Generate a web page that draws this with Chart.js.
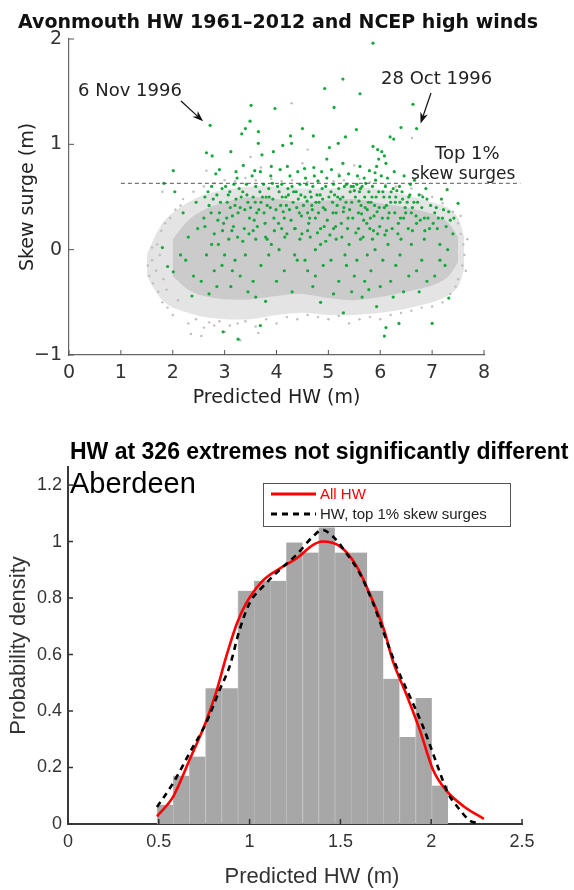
<!DOCTYPE html>
<html>
<head>
<meta charset="utf-8">
<script src="https://cdn.jsdelivr.net/npm/chart.js@4.4.0/dist/chart.umd.min.js"></script>
<style>
  html, body { margin: 0; padding: 0; background: #fff; }
  #wrap { position: relative; width: 574px; height: 890px; overflow: hidden; }
  #top { position: absolute; left: 0; top: 0; }
  #bottom { position: absolute; left: 0; top: 430px; }
</style>
</head>
<body>
<div id="wrap">
  <canvas id="top" width="574" height="430" style="width:574px;height:430px"></canvas>
  <canvas id="bottom" width="574" height="460" style="width:574px;height:460px"></canvas>
</div>
<script>
// ---------- top panel: Avonmouth skew surge vs predicted HW ----------
const hwTicks = [0, 1, 2, 3, 4, 5, 6, 7, 8];
const surgeTicks = [-1, 0, 1, 2];
const top1Threshold = 0.63;
const thresholdSpan = [1, 8.7];

// envelope of the grey cloud (all high waters)
const cloudOuterX  = [1.5, 1.65, 1.8, 2.0, 2.3, 2.6, 3.0, 3.5, 4.0, 4.5, 5.0, 5.5, 6.0, 6.5, 7.0, 7.3, 7.5, 7.62];
const cloudOuterHi = [-0.05, 0.12, 0.25, 0.35, 0.45, 0.52, 0.57, 0.6, 0.6, 0.58, 0.58, 0.6, 0.57, 0.52, 0.45, 0.4, 0.3, 0.12];
const cloudOuterLo = [-0.25, -0.38, -0.48, -0.55, -0.6, -0.64, -0.66, -0.66, -0.62, -0.6, -0.62, -0.62, -0.6, -0.56, -0.5, -0.44, -0.35, -0.18];
const cloudCoreX  = [2.0, 2.3, 2.6, 3.0, 3.5, 4.0, 4.5, 5.0, 5.5, 6.0, 6.5, 7.0, 7.3, 7.5];
const cloudCoreHi = [0.1, 0.28, 0.38, 0.45, 0.5, 0.48, 0.45, 0.47, 0.48, 0.44, 0.4, 0.34, 0.26, 0.12];
const cloudCoreLo = [-0.25, -0.38, -0.44, -0.47, -0.47, -0.44, -0.42, -0.46, -0.48, -0.45, -0.4, -0.34, -0.26, -0.12];

// scattered grey high waters around the cloud edge
const greyPoints = [
  [1.55,-0.25],[1.6,-0.1],[1.62,-0.32],[1.7,0.05],[1.72,-0.4],[1.78,0.18],[1.8,-0.5],[1.85,0.25],[1.88,-0.38],[1.95,0.3],
  [1.6,0.02],[1.68,-0.2],[1.75,-0.05],[1.52,-0.15],[1.82,-0.28],[1.9,-0.55],[2.0,-0.62],[2.05,0.38],[2.1,-0.48],[2.15,0.42],
  [2.3,-0.7],[2.35,-0.8],[2.45,-0.66],[2.6,-0.74],[2.7,-0.69],[2.8,-0.72],[2.9,-0.68],[3.0,-0.78],[3.1,-0.72],[3.25,-0.7],
  [3.4,-0.68],[3.6,-0.73],[3.65,-0.79],[3.8,-0.66],[4.0,-0.7],[4.2,-0.64],[4.4,-0.66],[4.6,-0.62],[4.8,-0.64],[5.0,-0.66],
  [5.2,-0.63],[5.4,-0.7],[5.6,-0.66],[5.8,-0.64],[6.0,-0.66],[6.2,-0.62],[6.4,-0.6],[6.6,-0.58],[6.8,-0.55],[7.0,-0.54],
  [7.2,-0.5],[7.35,-0.42],[3.3,-0.86],[2.55,-0.82],
  [2.2,0.48],[2.4,0.55],[2.6,0.6],[2.8,0.63],[3.0,0.66],[3.2,0.65],[3.4,0.68],[3.6,0.66],[3.9,0.67],[4.1,0.65],
  [4.3,0.66],[4.6,0.64],[4.8,0.66],[5.1,0.65],[5.3,0.66],[5.6,0.67],[5.8,0.64],[6.1,0.62],[6.3,0.6],[6.6,0.58],
  [6.8,0.52],[7.0,0.5],[7.2,0.44],[7.4,0.36],[1.8,0.55],[2.65,0.75],[3.7,0.78],[4.5,0.82],[5.5,0.8],[6.61,1.06],
  [4.29,1.39],[4.6,0.95],[3.5,0.88],[5.2,0.72],
  [7.5,0.25],[7.55,0.15],[7.6,0.05],[7.62,-0.05],[7.58,-0.15],[7.5,-0.28],[7.45,-0.35],[7.65,-0.2],[7.55,0.32],[7.68,0.1]
];

// green: high waters with NCEP high winds
const windPoints = [
  [1.83,0.63],[2.04,0.55],[2.01,0.75],[1.8,0.02],[1.9,-0.16],[2.01,-0.21],[2.2,0.35],[2.3,0.12],[2.37,-0.44],[2.45,0.45],
  [2.25,-0.1],[2.4,-0.25],[2.48,0.2],[2.15,-0.05],
  [2.72,1.18],[2.65,0.92],[2.76,0.89],[2.9,0.76],[2.6,0.3],[2.62,0.5],[2.7,0.42],[2.75,0.6],[2.8,0.15],[2.85,0.52],
  [2.9,0.35],[2.95,0.58],[2.97,-0.78],[2.55,-0.3],[2.65,-0.05],[2.8,-0.2],[2.88,0.05],[2.98,0.25],[2.7,-0.42],[2.95,-0.15],
  [3.12,0.93],[3.22,0.74],[3.33,1.1],[3.4,1.15],[3.49,1.22],[3.05,0.45],[3.1,0.55],[3.15,0.32],[3.18,0.62],[3.22,0.48],
  [3.28,0.58],[3.3,0.4],[3.35,0.55],[3.38,0.2],[3.42,0.62],[3.45,0.45],[3.48,0.3],[3.08,0.1],[3.2,-0.1],[3.26,-0.85],
  [3.3,-0.25],[3.4,-0.05],[3.45,-0.4],[3.12,-0.35],[3.35,0.08],
  [3.51,1.37],[3.65,1.12],[3.65,1.01],[3.72,0.9],[3.58,0.75],[3.9,0.79],[3.94,0.93],[3.97,1.34],[3.55,0.5],[3.6,0.6],
  [3.62,0.35],[3.68,0.55],[3.7,0.45],[3.75,0.62],[3.78,0.25],[3.8,0.5],[3.85,0.58],[3.88,0.4],[3.92,0.63],[3.95,0.3],
  [3.6,0.1],[3.7,-0.15],[3.69,-0.72],[3.79,-0.49],[3.85,-0.05],[3.55,-0.3],[3.9,0.05],
  [4.12,0.99],[4.27,1.08],[4.29,1.01],[4.21,0.79],[4.05,0.55],[4.08,0.42],[4.1,0.62],[4.15,0.3],[4.18,0.5],[4.22,0.58],
  [4.25,0.38],[4.3,0.6],[4.32,0.45],[4.35,0.2],[4.38,0.55],[4.42,0.48],[4.45,0.62],[4.48,0.32],[4.05,0.0],[4.15,-0.2],
  [4.3,-0.4],[4.4,-0.1],[4.45,0.1],[4.2,0.15],
  [4.5,1.15],[4.54,0.77],[4.72,0.78],[4.71,1.08],[4.97,0.86],[5.02,0.97],[4.55,0.5],[4.58,0.62],[4.6,0.35],[4.65,0.55],
  [4.68,0.42],[4.7,0.6],[4.75,0.3],[4.78,0.52],[4.8,0.65],[4.82,0.45],[4.85,0.2],[4.88,0.58],[4.9,0.4],[4.95,0.6],
  [4.98,0.28],[4.6,-0.2],[4.7,-0.35],[4.75,0.0],[4.85,-0.5],[4.9,-0.15],[4.65,0.12],[4.95,0.08],
  [4.93,1.53],[5.28,1.62],[5.11,1.35],[5.19,1.01],[5.33,1.07],[5.28,0.82],[5.05,0.55],[5.08,0.45],[5.1,0.62],[5.15,0.35],
  [5.18,0.5],[5.2,0.58],[5.25,0.25],[5.28,0.5],[5.3,0.4],[5.35,0.62],[5.38,0.3],[5.42,0.55],[5.45,0.45],[5.48,0.6],
  [5.05,-0.1],[5.15,0.1],[5.2,-0.3],[5.29,-0.6],[5.35,-0.15],[5.4,0.05],[5.45,-0.4],
  [5.61,1.48],[5.54,1.14],[5.61,0.79],[5.86,1.96],[5.86,0.98],[5.95,0.95],[5.93,0.79],[5.9,0.73],[5.52,0.5],[5.55,0.62],
  [5.58,0.35],[5.6,0.55],[5.63,0.42],[5.65,0.6],[5.68,0.28],[5.7,0.5],[5.72,0.63],[5.75,0.38],[5.78,0.55],[5.8,0.2],
  [5.82,0.45],[5.85,0.6],[5.88,0.32],[5.92,0.5],[5.95,0.15],[5.98,0.4],[5.55,-0.1],[5.62,0.1],[5.7,-0.3],[5.75,-0.05],
  [5.82,-0.2],[5.93,-0.54],[5.9,0.0],[5.65,-0.45],
  [6.03,0.93],[6.08,0.89],[6.11,0.82],[5.97,0.86],[6.19,1.07],[6.26,1.05],[6.4,1.16],[6.05,0.55],[6.08,0.4],[6.1,0.6],
  [6.15,0.3],[6.18,0.5],[6.2,0.45],[6.25,0.58],[6.28,0.35],[6.3,0.5],[6.35,0.25],[6.38,0.45],[6.42,0.55],[6.45,0.3],
  [6.48,0.4],[6.08,-0.82],[6.11,-0.74],[6.36,-0.7],[6.05,-0.1],[6.15,0.05],[6.2,-0.3],[6.3,-0.15],[6.4,0.1],[6.25,-0.45],
  [6.63,1.38],[6.7,1.15],[6.55,0.5],[6.6,0.35],[6.65,0.45],[6.7,0.25],[6.75,0.52],[6.8,0.4],[6.85,0.3],[6.9,0.48],
  [6.95,0.2],[6.6,0.05],[6.7,-0.2],[6.8,-0.1],[6.75,-0.4],[6.9,-0.3],[6.58,0.62],[6.88,0.58],
  [7.29,0.57],[7.18,0.48],[7.32,0.36],[7.5,0.44],[7.0,-0.7],[7.32,-0.46],[7.05,0.35],[7.1,0.2],[7.15,0.05],[7.2,0.3],
  [7.25,-0.15],[7.4,0.15],[7.05,-0.25],[7.3,0.0],
  [2.62,0.22],[2.68,0.55],[2.74,0.35],[2.78,0.48],[2.83,0.72],[2.87,0.28],[2.92,0.45],[2.96,0.18],[3.02,0.6],[3.04,0.3],
  [3.07,0.52],[3.11,0.4],[3.14,0.18],[3.17,0.22],[3.2,0.42],[3.24,0.68],[3.26,0.35],[3.32,0.5],[3.36,0.8],[3.39,0.38],
  [3.43,0.52],[3.47,0.15],[3.5,0.4],[3.53,0.7],[3.57,0.28],[3.59,0.45],[3.63,0.22],[3.66,0.38],[3.69,0.74],[3.73,0.5],
  [3.76,0.35],[3.79,0.12],[3.82,0.42],[3.86,0.5],[3.89,0.7],[3.93,0.48],[3.96,0.18],[3.99,0.38],[4.02,0.6],[4.04,0.25],
  [4.07,0.76],[4.11,0.5],[4.13,0.36],[4.16,0.12],[4.19,0.42],[4.23,0.52],[4.26,0.7],[4.28,0.28],[4.33,0.55],[4.36,0.2],
  [4.39,0.4],[4.41,0.74],[4.44,0.35],[4.47,0.52],[4.49,0.15],[4.52,0.42],[4.56,0.68],[4.59,0.46],[4.62,0.25],[4.64,0.3],
  [4.67,0.5],[4.69,0.38],[4.73,0.7],[4.76,0.45],[4.79,0.16],[4.81,0.35],[4.84,0.52],[4.87,0.74],[4.89,0.48],[4.92,0.22],
  [4.94,0.38],[4.97,0.68],[5.01,0.5],[5.03,0.14],[5.06,0.76],[5.09,0.35],[5.12,0.52],[5.14,0.22],[5.17,0.42],[5.21,0.7],
  [5.23,0.48],[5.26,0.12],[5.29,0.36],[5.31,0.6],[5.34,0.45],[5.37,0.2],[5.39,0.72],[5.41,0.38],[5.44,0.6],[5.47,0.3],
  [5.5,0.56],[5.53,0.16],[5.56,0.7],[5.59,0.46],[5.62,0.58],[5.64,0.34],[5.67,0.12],[5.69,0.68],[5.71,0.4],[5.74,0.25],
  [5.77,0.45],[5.79,0.75],[5.81,0.3],[5.84,0.5],[5.87,0.18],[5.89,0.42],[5.91,0.66],[5.94,0.36],[5.97,0.55],[5.99,0.22],
  [6.02,0.7],[6.04,0.3],[6.07,0.5],[6.09,0.14],[6.12,0.42],[6.14,0.68],[6.17,0.35],[6.21,0.55],[6.23,0.2],[6.27,0.74],
  [6.29,0.45],[6.32,0.56],[6.34,0.15],[6.37,0.6],[6.39,0.3],[6.43,0.48],[6.46,0.7],[6.49,0.35],[6.52,0.45],[6.54,0.2],
  [6.57,0.52],[6.62,0.4],[6.66,0.66],[6.69,0.32],[6.72,0.45],[6.77,0.28],[6.82,0.5],[6.86,0.18],[6.92,0.3],[6.97,0.42],
  [7.02,0.25],[7.08,0.4],[7.12,0.3],[7.22,0.38],[7.27,0.22],[7.35,0.28],[7.42,0.3],
  [2.75,0.05],[3.0,-0.05],[3.25,0.12],[3.55,0.18],[3.82,0.1],[4.1,0.2],[4.35,-0.05],[4.6,0.18],[4.85,0.05],[5.1,0.2],
  [5.32,-0.05],[5.58,0.2],[5.85,0.1],[6.12,0.18],[6.38,-0.05],[6.62,0.18],[6.85,0.1],[7.15,-0.1],[3.15,-0.2],[4.0,-0.3],
  [4.55,-0.1],[5.5,-0.25],[6.0,-0.35],[6.55,-0.25],[2.85,-0.35],[3.6,-0.45],[4.75,-0.25],[5.1,-0.42],[5.78,-0.38],[6.45,-0.4]
];

const stormDates = ['6 Nov 1996', '28 Oct 1996'];
const stormPoints = [[2.72, 1.18], [6.70, 1.15]];

// ---------- bottom panel: Aberdeen HW densities ----------
const hwTicksB = [0, 0.5, 1, 1.5, 2, 2.5];
const densityTicks = [0, 0.2, 0.4, 0.6, 0.8, 1, 1.2];
const binCentres = [0.535, 0.624, 0.713, 0.802, 0.891, 0.980, 1.069, 1.158, 1.247,
                    1.336, 1.425, 1.514, 1.603, 1.692, 1.781, 1.870, 1.959, 2.048];
const binDensity = [0.068, 0.171, 0.239, 0.481, 0.481, 0.826, 0.861, 0.861, 0.997,
                    0.961, 1.05, 0.961, 0.961, 0.826, 0.514, 0.308, 0.446, 0.136];
const allHwX = [0.49, 0.58, 0.67, 0.76, 0.82, 0.87, 0.93, 0.98, 1.07, 1.17, 1.26, 1.35, 1.40,
                1.50, 1.59, 1.66, 1.74, 1.79, 1.86, 1.94, 2.01, 2.08, 2.18, 2.29];
const allHwY = [0.027, 0.098, 0.228, 0.363, 0.475, 0.59, 0.71, 0.78, 0.86, 0.906, 0.941, 0.988, 1.0,
                0.982, 0.912, 0.817, 0.688, 0.575, 0.464, 0.328, 0.192, 0.121, 0.062, 0.018];
const topHwX = [0.49, 0.58, 0.67, 0.76, 0.835, 0.89, 0.945, 1.0, 1.074, 1.166, 1.258, 1.349, 1.40,
                1.459, 1.533, 1.606, 1.68, 1.753, 1.808, 1.882, 1.955, 2.029, 2.092, 2.157, 2.212, 2.267];
const topHwY = [0.06, 0.146, 0.252, 0.357, 0.475, 0.558, 0.688, 0.782, 0.841, 0.9, 0.953, 1.018, 1.041,
                1.018, 0.959, 0.888, 0.782, 0.652, 0.558, 0.452, 0.345, 0.216, 0.11, 0.051, 0.012, 0.003];

const pairs = (xs, ys) => xs.map((x, i) => ({ x: x, y: ys[i] }));
const pts = arr => arr.map(p => ({ x: p[0], y: p[1] }));
const plainTick = v => String(v).replace('-', '\u2212');

// MATLAB style ticks pointing into the plot
const inwardTicks = {
  id: 'inwardTicks',
  afterDraw(chart, args, opts) {
    const { ctx, chartArea: a, scales: { x, y } } = chart;
    ctx.save();
    ctx.strokeStyle = opts.color;
    ctx.lineWidth = opts.width;
    ctx.beginPath();
    x.ticks.forEach(t => {
      const px = x.getPixelForValue(t.value);
      ctx.moveTo(px, a.bottom);
      ctx.lineTo(px, a.bottom - opts.len);
    });
    y.ticks.forEach(t => {
      const py = y.getPixelForValue(t.value);
      ctx.moveTo(a.left, py);
      ctx.lineTo(a.left + opts.len, py);
    });
    ctx.stroke();
    ctx.restore();
  }
};

function arrow(ctx, x0, y0, x1, y1) {
  const ang = Math.atan2(y1 - y0, x1 - x0);
  const hl = 11, hw = 4;
  ctx.beginPath();
  ctx.moveTo(x0, y0);
  ctx.lineTo(x1 - hl * 0.7 * Math.cos(ang), y1 - hl * 0.7 * Math.sin(ang));
  ctx.stroke();
  ctx.beginPath();
  ctx.moveTo(x1, y1);
  ctx.lineTo(x1 - hl * Math.cos(ang) + hw * Math.sin(ang), y1 - hl * Math.sin(ang) - hw * Math.cos(ang));
  ctx.lineTo(x1 - hl * 0.7 * Math.cos(ang), y1 - hl * 0.7 * Math.sin(ang));
  ctx.lineTo(x1 - hl * Math.cos(ang) - hw * Math.sin(ang), y1 - hl * Math.sin(ang) + hw * Math.cos(ang));
  ctx.closePath();
  ctx.fill();
}

const topNotes = {
  id: 'topNotes',
  afterDraw(chart) {
    const { ctx, scales: { x, y } } = chart;
    ctx.save();
    ctx.fillStyle = '#111';
    ctx.textBaseline = 'middle';
    ctx.font = 'bold 19px "DejaVu Sans"';
    ctx.fillText('Avonmouth HW 1961\u20132012 and NCEP high winds', 18, 23);
    ctx.font = '18px "DejaVu Sans"';
    ctx.fillStyle = '#222';
    ctx.fillText(stormDates[0], 78, 91);
    ctx.fillText(stormDates[1], 381, 79);
    ctx.fillText('Top 1%', 435, 154);
    ctx.font = '17px "DejaVu Sans"';
    ctx.fillText('skew surges', 411, 175);
    ctx.strokeStyle = '#111';
    ctx.fillStyle = '#111';
    ctx.lineWidth = 1.2;
    const p0 = stormPoints[0], p1 = stormPoints[1];
    arrow(ctx, 181, 101, x.getPixelForValue(p0[0]) - 7, y.getPixelForValue(p0[1]) - 4);
    arrow(ctx, 431, 93, x.getPixelForValue(p1[0]) + 4, y.getPixelForValue(p1[1]) - 5);
    ctx.restore();
  }
};

const topChart = new Chart(document.getElementById('top'), {
  type: 'scatter',
  data: {
    datasets: [
      { type: 'line', label: 'outer hi', data: pairs(cloudOuterX, cloudOuterHi), fill: '+1',
        backgroundColor: '#e4e4e4', borderWidth: 0, pointRadius: 0, tension: 0.3, order: 6 },
      { type: 'line', label: 'outer lo', data: pairs(cloudOuterX, cloudOuterLo), fill: false,
        borderWidth: 0, pointRadius: 0, tension: 0.3, order: 5 },
      { type: 'line', label: 'core hi', data: pairs(cloudCoreX, cloudCoreHi), fill: '+1',
        backgroundColor: '#cbcbcb', borderWidth: 0, pointRadius: 0, tension: 0.3, order: 4 },
      { type: 'line', label: 'core lo', data: pairs(cloudCoreX, cloudCoreLo), fill: false,
        borderWidth: 0, pointRadius: 0, tension: 0.3, order: 3 },
      { label: 'All HW', data: pts(greyPoints), backgroundColor: '#bdbdbd', borderWidth: 0,
        pointRadius: 1.2, order: 2 },
      { label: 'High winds', data: pts(windPoints), backgroundColor: '#16a83c', borderWidth: 0,
        pointRadius: 1.6, order: 1 },
      { type: 'line', label: 'Top 1%', data: thresholdSpan.map(v => ({ x: v, y: top1Threshold })),
        borderColor: '#555', borderWidth: 1, borderDash: [4, 3], pointRadius: 0, clip: false, order: 0 }
    ]
  },
  options: {
    responsive: false,
    animation: false,
    layout: { padding: { left: 0, top: 39, right: 90, bottom: 0 } },
    plugins: {
      legend: { display: false },
      tooltip: { enabled: false },
      inwardTicks: { len: 5, color: '#555', width: 1 }
    },
    scales: {
      x: {
        type: 'linear', min: 0, max: 8,
        afterBuildTicks: s => { s.ticks = hwTicks.map(v => ({ value: v })); },
        afterFit: s => { s.height = 75; },
        grid: { display: false, drawTicks: false },
        border: { display: true, color: '#666', width: 1.2 },
        ticks: { padding: 7, color: '#333', font: { family: 'DejaVu Sans', size: 19 }, callback: plainTick },
        title: { display: true, text: 'Predicted HW (m)', color: '#222',
                 font: { family: 'DejaVu Sans', size: 19 }, padding: { top: 0, bottom: 21 } }
      },
      y: {
        type: 'linear', min: -1, max: 2,
        afterBuildTicks: s => { s.ticks = surgeTicks.map(v => ({ value: v })); },
        afterFit: s => { s.width = 69; },
        grid: { display: false, drawTicks: false },
        border: { display: true, color: '#666', width: 1.2 },
        ticks: { padding: 7, color: '#333', font: { family: 'DejaVu Sans', size: 19 }, callback: plainTick },
        title: { display: true, text: 'Skew surge (m)', color: '#222',
                 font: { family: 'DejaVu Sans', size: 19 }, padding: { top: 17, bottom: 0 } }
      }
    }
  },
  plugins: [inwardTicks, topNotes]
});

const bottomNotes = {
  id: 'bottomNotes',
  afterDraw(chart) {
    const { ctx } = chart;
    ctx.save();
    ctx.textBaseline = 'middle';
    ctx.fillStyle = '#000';
    ctx.font = 'bold 23px "Liberation Sans", Arial';
    ctx.fillText('HW at 326 extremes not significantly different', 70, 23);
    ctx.textBaseline = 'alphabetic';
    ctx.font = '29px "Liberation Sans", Arial';
    ctx.fillText('Aberdeen', 70, 63);
    ctx.textAlign = 'center';
    ctx.textBaseline = 'middle';
    ctx.fillStyle = '#333';
    ctx.font = '22px "Liberation Sans", Arial';
    ctx.fillText('Predicted HW (m)', 312, 447);

    // legend
    ctx.textAlign = 'left';
    ctx.fillStyle = '#fff';
    ctx.fillRect(263, 53, 247, 43);
    ctx.strokeStyle = '#555';
    ctx.lineWidth = 1;
    ctx.strokeRect(263.5, 53.5, 247, 43);
    const entries = [chart.data.datasets[1], chart.data.datasets[0]];
    const rows = [64, 84];
    ctx.font = '15px "Liberation Sans", Arial';
    entries.forEach((ds, i) => {
      ctx.beginPath();
      ctx.strokeStyle = ds.borderColor;
      ctx.lineWidth = 3;
      ctx.setLineDash(ds.borderDash || []);
      ctx.moveTo(271, rows[i]);
      ctx.lineTo(316, rows[i]);
      ctx.stroke();
      ctx.setLineDash([]);
      ctx.fillStyle = i === 0 ? '#ff0000' : '#222';
      ctx.fillText(ds.label, 320, rows[i] + 1);
    });
    ctx.restore();
  }
};

const bottomChart = new Chart(document.getElementById('bottom'), {
  type: 'bar',
  data: {
    datasets: [
      { type: 'line', label: 'HW, top 1% skew surges', data: pairs(topHwX, topHwY),
        borderColor: '#000', borderWidth: 2.6, borderDash: [6, 5], pointRadius: 0,
        cubicInterpolationMode: 'monotone', fill: false, order: 0 },
      { type: 'line', label: 'All HW', data: pairs(allHwX, allHwY),
        borderColor: '#ff0000', borderWidth: 2.6, pointRadius: 0,
        cubicInterpolationMode: 'monotone', fill: false, order: 1 },
      { type: 'bar', label: 'histogram', data: pairs(binCentres, binDensity),
        backgroundColor: '#a7a7a7', borderColor: '#b8b8b8',
        borderWidth: { left: 1, right: 0, top: 0, bottom: 0 },
        barPercentage: 1, categoryPercentage: 1, order: 2 }
    ]
  },
  options: {
    responsive: false,
    animation: false,
    layout: { padding: { left: 0, top: 37, right: 52, bottom: 0 } },
    plugins: {
      legend: { display: false },
      tooltip: { enabled: false },
      inwardTicks: { len: 5, color: '#333', width: 1.5 }
    },
    scales: {
      x: {
        type: 'linear', min: 0, max: 2.5, offset: false,
        afterBuildTicks: s => { s.ticks = hwTicksB.map(v => ({ value: v })); },
        afterFit: s => { s.height = 66; },
        grid: { display: false, drawTicks: false, offset: false },
        border: { display: true, color: '#3a3a3a', width: 2 },
        ticks: { padding: 7, color: '#333', font: { family: 'Liberation Sans', size: 18 }, callback: plainTick }
      },
      y: {
        type: 'linear', min: 0, max: 1.264,
        afterBuildTicks: s => { s.ticks = densityTicks.map(v => ({ value: v })); },
        afterFit: s => { s.width = 68; },
        grid: { display: false, drawTicks: false },
        border: { display: true, color: '#3a3a3a', width: 2 },
        ticks: { padding: 6, color: '#333', font: { family: 'Liberation Sans', size: 18 }, callback: plainTick },
        title: { display: true, text: 'Probability density', color: '#333',
                 font: { family: 'Liberation Sans', size: 22 }, padding: { top: 6, bottom: 0 } }
      }
    }
  },
  plugins: [inwardTicks, bottomNotes]
});
</script>
</body>
</html>
